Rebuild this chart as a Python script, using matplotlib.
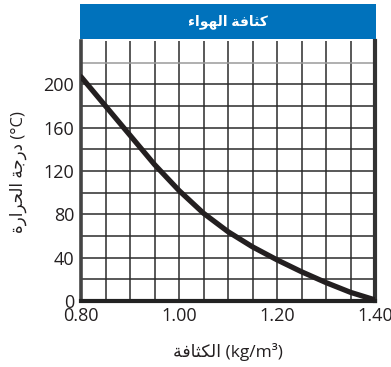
import matplotlib
matplotlib.use("Agg")
import matplotlib.pyplot as plt

# data
density = [0.80, 0.85, 0.90, 0.95, 1.00, 1.05, 1.10, 1.15, 1.20, 1.25, 1.30, 1.35, 1.40]
temperature = [207, 180, 153, 126, 102, 81, 64, 50, 38, 27, 17, 8, 1]
xticks = [0.80, 1.00, 1.20, 1.40]
xticklabels = ["0.80", "1.00", "1.20", "1.40"]
yticks = [0, 40, 80, 120, 160, 200]

# Arabic text in visual order with presentation forms
title = "\uFE80\uFE8D\uFEEE\uFEEC\uFEDF\uFE8D \uFE94\uFED3\uFE8E\uFE9C\uFEDB"
xlabel_ar = "\uFE94\uFED3\uFE8E\uFE9C\uFEDC\uFEDF\uFE8D"
ylabel_ar = "\uFE93\uFEAD\uFE8D\uFEAE\uFEA4\uFEDF\uFE8D \uFE94\uFE9F\uFEAD\uFEA9"

fam = ["Open Sans", "DejaVu Sans"]
txtc = "#231f20"

W, H = 391, 367
fig = plt.figure(figsize=(W / 100, H / 100), dpi=100)
fig.patch.set_facecolor("white")

L, R, T, B = 81, 375, 41, 301
ax = fig.add_axes([L / W, 1 - B / H, (R - L) / W, (B - T) / H])
ax.set_xlim(0.80, 1.40)
ax.set_ylim(0, 240)

# grid
for i in range(1, 12):
    ax.axvline(0.80 + i * 0.05, color="#2b2b2b", lw=1.1, zorder=1)
for j in range(1, 12):
    c = "#9a9a9a" if j == 11 else "#2b2b2b"
    ax.axhline(j * 20, color=c, lw=1.1, zorder=1)

ax.plot(density, temperature, color=txtc, lw=3.8, solid_capstyle="round",
        solid_joinstyle="round", zorder=3)

ax.spines["top"].set_visible(False)
ax.spines["left"].set_color("#444444")
ax.spines["left"].set_linewidth(2.6)
ax.spines["bottom"].set_color("#222222")
ax.spines["bottom"].set_linewidth(3)
ax.spines["right"].set_color("#333333")
ax.spines["right"].set_linewidth(3)

ax.set_xticks(xticks)
ax.set_xticklabels(xticklabels)
ax.set_yticks(yticks)
ax.tick_params(length=0, labelsize=13, labelcolor=txtc, pad=5)
ax.tick_params(axis="x", pad=4)
for lab in ax.get_xticklabels() + ax.get_yticklabels():
    lab.set_family(fam)

# title bar
tax = fig.add_axes([80 / W, 1 - 39 / H, (376 - 80) / W, 35 / H])
tax.set_facecolor("#0072bc")
tax.set_xticks([])
tax.set_yticks([])
for s in tax.spines.values():
    s.set_visible(False)
tax.text(0.5, 0.5, title, color="white", fontsize=10, fontweight="bold",
         ha="center", va="center", family=fam, transform=tax.transAxes)

fig.text(228 / W, 1 - 352 / H, xlabel_ar + " (kg/m\u00b3)", ha="center", va="center",
         fontsize=12.5, color=txtc, family=fam)
fig.text(18 / W, 1 - 172 / H, ylabel_ar + " (\u00b0C)", ha="center", va="center",
         rotation=90, fontsize=12, color=txtc, family=fam)

fig.savefig("out.png", dpi=100, facecolor="white")
